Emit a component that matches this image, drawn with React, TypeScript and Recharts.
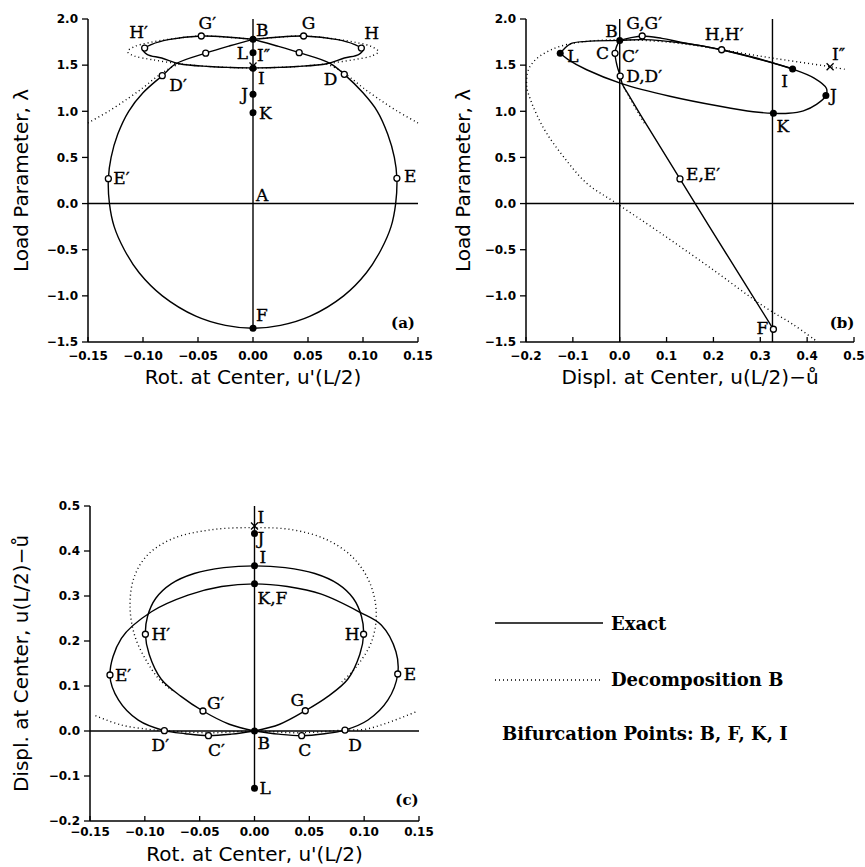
import React from 'react'
import { ComposedChart, Line, Scatter, XAxis, YAxis, ReferenceLine } from 'recharts'

type Pt = { x: number; y: number; name?: string }
type Off = Record<string, [number, number, 'start' | 'middle' | 'end']>

const P = (x: number, y: number, name?: string): Pt => ({ x, y, name })

// ---------- panel (a): load parameter vs rotation at center ----------
const loopA: Pt[] = [
  P(0, 1.78), P(0.021, 1.71), P(0.042, 1.635), P(0.07, 1.52), P(0.083, 1.4), P(0.1, 1.2),
  P(0.113, 1.0), P(0.1225, 0.75), P(0.1285, 0.5), P(0.1308, 0.274), P(0.1297, 0), P(0.1255, -0.25),
  P(0.1164, -0.5), P(0.1031, -0.75), P(0.0824, -1.0), P(0.052, -1.22), P(0.025, -1.32), P(0, -1.351),
  P(-0.025, -1.32), P(-0.052, -1.22), P(-0.0824, -1.0), P(-0.1035, -0.75), P(-0.117, -0.5),
  P(-0.1262, -0.25), P(-0.1305, 0), P(-0.1315, 0.27), P(-0.129, 0.5), P(-0.123, 0.75), P(-0.113, 1.0),
  P(-0.1, 1.2), P(-0.0825, 1.386), P(-0.07, 1.515), P(-0.043, 1.63), P(-0.021, 1.71), P(0, 1.78),
]
const eightA: Pt[] = [
  P(0, 1.78), P(0.019, 1.8), P(0.046, 1.816), P(0.077, 1.776), P(0.092, 1.725), P(0.1, 1.67),
  P(0.096, 1.615), P(0.083, 1.577), P(0.067, 1.515), P(0.04, 1.485), P(0.02, 1.475), P(0, 1.47),
  P(-0.02, 1.475), P(-0.04, 1.485), P(-0.067, 1.515), P(-0.083, 1.577), P(-0.096, 1.615),
  P(-0.1, 1.67), P(-0.092, 1.725), P(-0.077, 1.776), P(-0.047, 1.816), P(-0.019, 1.8), P(0, 1.78),
]
const trivialA: Pt[] = [P(0, 2.0), P(0, -1.351)]
const decompLensA: Pt[] = [
  P(0.067, 1.515), P(0.04, 1.485), P(0, 1.47), P(-0.04, 1.485), P(-0.067, 1.515), P(-0.092, 1.56),
  P(-0.108, 1.6), P(-0.114, 1.645), P(-0.108, 1.7), P(-0.094, 1.745), P(-0.075, 1.782),
  P(-0.047, 1.816), P(-0.02, 1.8), P(0, 1.785), P(0.02, 1.8), P(0.046, 1.816), P(0.075, 1.782),
  P(0.094, 1.745), P(0.108, 1.7), P(0.114, 1.645), P(0.108, 1.6), P(0.092, 1.56), P(0.067, 1.515),
]
const decompLeftA: Pt[] = [
  P(-0.15, 0.873), P(-0.13, 1.01), P(-0.113, 1.144), P(-0.1, 1.255), P(-0.089, 1.36), P(-0.078, 1.45), P(-0.067, 1.515),
]
const decompRightA: Pt[] = [
  P(0.067, 1.515), P(0.078, 1.45), P(0.089, 1.36), P(0.1, 1.255), P(0.113, 1.144), P(0.13, 1.01), P(0.15, 0.873),
]
const filledA: Pt[] = [P(0, 1.78, 'B'), P(0, 1.635, 'L'), P(0, 1.466, 'I'), P(0, 1.184, 'J'), P(0, 0.985, 'K'), P(0, -1.351, 'F')]
const openA: Pt[] = [
  P(0.046, 1.816, 'G'), P(0.0985, 1.685, 'H'), P(-0.047, 1.816, 'G′'), P(-0.0985, 1.685, 'H′'),
  P(0.042, 1.635, ''), P(-0.043, 1.63, ''), P(0.083, 1.4, 'D'), P(-0.0825, 1.386, 'D′'),
  P(0.1308, 0.274, 'E'), P(-0.1315, 0.27, 'E′'),
]
const crossA: Pt[] = [P(0, 1.49, 'I″')]
const textA: Pt[] = [P(0, 0, 'A')]

// ---------- panel (b): load parameter vs displacement ----------
const ellipseB: Pt[] = [
  P(-0.127, 1.628), P(-0.106, 1.729), P(-0.0705, 1.758), P(0, 1.768), P(0.05, 1.776), P(0.13, 1.742),
  P(0.2175, 1.667), P(0.285, 1.58), P(0.369, 1.458), P(0.415, 1.36), P(0.441, 1.25), P(0.44, 1.17),
  P(0.42, 1.075), P(0.392, 1.005), P(0.36, 0.978), P(0.328, 0.978), P(0.285, 0.995), P(0.214, 1.054),
  P(0.107, 1.163), P(0.004, 1.3), P(-0.0705, 1.45), P(-0.11, 1.56), P(-0.127, 1.628),
]
const gPathB: Pt[] = [
  P(0, 1.768), P(0.022, 1.795), P(0.048, 1.816), P(0.09, 1.79), P(0.13, 1.75), P(0.2175, 1.667), P(0.285, 1.585), P(0.369, 1.458),
]
const steepB: Pt[] = [
  P(0, 1.768), P(-0.007, 1.7), P(-0.01, 1.628), P(-0.006, 1.5), P(0.001, 1.382), P(0.006, 1.29),
  P(0.02, 1.17), P(0.05, 0.915), P(0.1286, 0.267), P(0.23, -0.565), P(0.328, -1.362),
]
const branchXsB = [0, 0.326]
const decompBigB: Pt[] = [
  P(0.48, 1.455), P(0.449, 1.483), P(0.378, 1.537), P(0.306, 1.592), P(0.2175, 1.667), P(0.13, 1.735),
  P(0.05, 1.768), P(-0.03, 1.772), P(-0.09, 1.745), P(-0.127, 1.704), P(-0.149, 1.66), P(-0.17, 1.6),
  P(-0.185, 1.53), P(-0.195, 1.45), P(-0.1985, 1.27), P(-0.19, 1.12), P(-0.177, 0.963), P(-0.156, 0.762),
  P(-0.12, 0.508), P(-0.0705, 0.22), P(-0.006, 0.0), P(0.093, -0.34), P(0.2, -0.72), P(0.306, -1.11),
  P(0.37, -1.31), P(0.42, -1.49),
]
const decompShortB: Pt[] = [P(0.001, 1.382), P(0.004, 1.32), P(0.02, 1.16), P(0.04, 0.98), P(0.055, 0.85)]
const filledB: Pt[] = [P(0, 1.768, 'B'), P(-0.127, 1.628, 'L'), P(0.369, 1.458, 'I'), P(0.44, 1.17, 'J'), P(0.328, 0.978, 'K')]
const openB: Pt[] = [
  P(0.048, 1.816, 'G,G′'), P(0.2175, 1.667, 'H,H′'), P(-0.01, 1.628, 'C'), P(0.001, 1.382, 'D,D′'),
  P(0.1286, 0.267, 'E,E′'), P(0.328, -1.362, 'F'),
]
const crossB: Pt[] = [P(0.449, 1.483, 'I″')]
const textB: Pt[] = [P(-0.01, 1.628, 'C′')]

// ---------- panel (c): displacement vs rotation ----------
const outerC: Pt[] = [
  P(0, 0), P(0.022, -0.007), P(0.043, -0.0104), P(0.064, -0.006), P(0.0825, 0.002), P(0.1035, 0.0244),
  P(0.1217, 0.069), P(0.1306, 0.1267), P(0.129, 0.176), P(0.1156, 0.2356), P(0.096, 0.264), P(0.061, 0.304),
  P(0.03, 0.321), P(0, 0.327), P(-0.03, 0.321), P(-0.0606, 0.302), P(-0.094, 0.265), P(-0.1214, 0.206),
  P(-0.1318, 0.1244), P(-0.124, 0.069), P(-0.106, 0.024), P(-0.0822, 0.0007), P(-0.063, -0.006),
  P(-0.042, -0.0104), P(-0.021, -0.007), P(0, 0),
]
const innerC: Pt[] = [
  P(0, 0), P(0.023, 0.015), P(0.0463, 0.045), P(0.067, 0.077), P(0.085, 0.115), P(0.096, 0.17),
  P(0.0995, 0.215), P(0.0975, 0.255), P(0.09, 0.295), P(0.076, 0.327), P(0.055, 0.35), P(0.028, 0.363),
  P(0, 0.367), P(-0.028, 0.363), P(-0.055, 0.35), P(-0.076, 0.327), P(-0.09, 0.295), P(-0.0975, 0.255),
  P(-0.0995, 0.215), P(-0.096, 0.17), P(-0.085, 0.115), P(-0.067, 0.077), P(-0.047, 0.0444),
  P(-0.023, 0.015), P(0, 0),
]
const trivialC: Pt[] = [P(0, 0.5), P(0, -0.127)]
const decompArchC: Pt[] = [
  P(-0.075, 0.09), P(-0.087, 0.115), P(-0.099, 0.158), P(-0.109, 0.21), P(-0.1135, 0.276),
  P(-0.11, 0.34), P(-0.098, 0.39), P(-0.075, 0.427), P(-0.04, 0.447), P(0, 0.452), P(0.035, 0.447),
  P(0.066, 0.425), P(0.09, 0.385), P(0.105, 0.33), P(0.111, 0.265), P(0.107, 0.2),
  P(0.093, 0.143), P(0.078, 0.105),
]
const decompFlatC: Pt[] = [
  P(-0.145, 0.034), P(-0.1215, 0.0133), P(-0.097, 0.0038), P(-0.0822, 0.0007), P(-0.04, -0.004),
  P(0, 0), P(0.04, -0.004), P(0.0825, 0.002), P(0.1005, 0.0037), P(0.1217, 0.0185), P(0.149, 0.0444),
]
const filledC: Pt[] = [P(0, 0.439, 'J'), P(0, 0.367, 'I'), P(0, 0.327, 'K,F'), P(0, 0, 'B'), P(0, -0.127, 'L')]
const openC: Pt[] = [
  P(0.0995, 0.215, 'H'), P(-0.0995, 0.215, 'H′'), P(0.1306, 0.1267, 'E'), P(-0.1318, 0.1244, 'E′'),
  P(0.0463, 0.045, 'G'), P(-0.047, 0.0444, 'G′'), P(0.0825, 0.002, 'D'), P(-0.0822, 0.0007, 'D′'),
  P(0.043, -0.0104, 'C'), P(-0.042, -0.0104, 'C′'),
]
const crossC: Pt[] = [P(0, 0.4556, 'I')]

// ticks
const rotTicks = [-0.15, -0.1, -0.05, 0, 0.05, 0.1, 0.15]
const lambdaTicks = [-1.5, -1, -0.5, 0, 0.5, 1, 1.5, 2]
const displTicksX = [-0.2, -0.1, 0, 0.1, 0.2, 0.3, 0.4, 0.5]
const displTicksY = [-0.2, -0.1, 0, 0.1, 0.2, 0.3, 0.4, 0.5]

// label placement [dx, dy, anchor] per point name
const offA: Off = {
  B: [3, -9, 'start'], G: [5, -13, 'middle'], H: [3, -15, 'start'], 'G′': [6, -13, 'middle'],
  'H′': [-6, -16, 'middle'], L: [-5, 0, 'end'], 'x:I″': [4, -11, 'start'], I: [5, 10, 'start'],
  'D′': [7, 9, 'start'], D: [-7, 5, 'end'], J: [-5, 0, 'end'], K: [6, 0, 'start'],
  'E′': [5, -1, 'start'], E: [7, -2, 'start'], A: [3, -9, 'start'], F: [3, -13, 'start'],
}
const offB: Off = {
  B: [-2, -9, 'end'], 'G,G′': [-16, -13, 'start'], 'H,H′': [-17, -16, 'start'], 'x:I″': [2, -13, 'start'],
  I: [-8, 12, 'middle'], J: [4, -1, 'start'], K: [3, 13, 'start'], L: [7, 3, 'start'],
  C: [-6, 0, 'end'], 'C′': [7, 3, 'start'], 'D,D′': [6, 0, 'start'], 'E,E′': [6, -5, 'start'], F: [-5, -1, 'end'],
}
const offC: Off = {
  'x:I': [3, -9, 'start'], J: [3, 5, 'start'], I: [5, -9, 'start'], 'K,F': [3, 14, 'start'],
  'H′': [6, 0, 'start'], H: [-4, 0, 'end'], 'E′': [5, 0, 'start'], E: [6, 0, 'start'],
  'G′': [4, -8, 'start'], G: [-8, -11, 'middle'], 'D′': [-4, 14, 'middle'], 'C′': [8, 14, 'middle'],
  B: [3, 12, 'start'], C: [3, 14, 'middle'], D: [10, 15, 'middle'], L: [5, 0, 'start'],
}

const num = (d: number) => (v: number) => (v < 0 ? '\u2212' : '') + Math.abs(v).toFixed(d)

// centripetal Catmull-Rom curve (d3 curve-factory shape) so the loops bend smoothly
function catmull(context: any) {
  let pts: number[][] = []
  return {
    areaStart() {},
    areaEnd() {},
    lineStart() { pts = [] },
    point(x: number, y: number) { pts.push([+x, +y]) },
    lineEnd() {
      const n = pts.length
      if (!n) return
      context.moveTo(pts[0][0], pts[0][1])
      if (n < 3) {
        for (let i = 1; i < n; i++) context.lineTo(pts[i][0], pts[i][1])
        return
      }
      for (let i = 0; i < n - 1; i++) {
        const p0 = pts[i > 0 ? i - 1 : i], p1 = pts[i], p2 = pts[i + 1], p3 = pts[i + 2 < n ? i + 2 : i + 1]
        const d01 = Math.hypot(p1[0] - p0[0], p1[1] - p0[1])
        const d12 = Math.hypot(p2[0] - p1[0], p2[1] - p1[1])
        const d23 = Math.hypot(p3[0] - p2[0], p3[1] - p2[1])
        const a01 = Math.sqrt(d01), a12 = Math.sqrt(d12), a23 = Math.sqrt(d23)
        let c1x = p1[0], c1y = p1[1], c2x = p2[0], c2y = p2[1]
        if (a01 > 1e-6) {
          const a = 2 * d01 + 3 * a01 * a12 + d12, m = 3 * a01 * (a01 + a12)
          c1x = (p1[0] * a - p0[0] * d12 + p2[0] * d01) / m
          c1y = (p1[1] * a - p0[1] * d12 + p2[1] * d01) / m
        }
        if (a23 > 1e-6) {
          const b = 2 * d23 + 3 * a23 * a12 + d12, m = 3 * a23 * (a23 + a12)
          c2x = (p2[0] * b + p1[0] * d23 - p3[0] * d12) / m
          c2y = (p2[1] * b + p1[1] * d23 - p3[1] * d12) / m
        }
        context.bezierCurveTo(c1x, c1y, c2x, c2y, p2[0], p2[1])
      }
    },
  }
}

const AXIS_LINE = { stroke: '#000', strokeWidth: 1.5 }
const TICK_LINE = { stroke: '#000', strokeWidth: 1.3 }
const TICK = { fill: '#000', fontSize: 12, fontWeight: 700, fontFamily: 'DejaVu Sans' }
const TITLE = { fontFamily: 'DejaVu Sans', fontSize: 20 }

const markerShape = (kind: 'filled' | 'open' | 'cross' | 'none', offsets: Off) => (props: any) => {
  const { cx, cy, payload } = props
  if (cx == null || cy == null) return <g />
  const name: string = payload?.name || ''
  const off = offsets[(kind === 'cross' ? 'x:' : '') + name] || [5, 0, 'start']
  return (
    <g>
      {kind === 'filled' && <circle cx={cx} cy={cy} r={3.5} fill="#000" />}
      {kind === 'open' && <circle cx={cx} cy={cy} r={3} fill="#fff" stroke="#000" strokeWidth={1.3} />}
      {kind === 'cross' && (
        <path d={`M${cx - 3.5},${cy - 3.5}L${cx + 3.5},${cy + 3.5}M${cx - 3.5},${cy + 3.5}L${cx + 3.5},${cy - 3.5}`} stroke="#000" strokeWidth={1.3} />
      )}
      {name && (
        <text x={cx + off[0]} y={cy + off[1]} textAnchor={off[2]} dominantBaseline="central"
          fontFamily="DejaVu Serif" fontSize={17} fill="#000" stroke="#000" strokeWidth={0.35}>{name}</text>
      )}
    </g>
  )
}

type PanelProps = {
  width: number; height: number; margin: { top: number; right: number; bottom: number; left: number }
  yAxisWidth: number; xAxisHeight: number; xTickMargin: number
  xDomain: [number, number]; xTicks: number[]; xFmt: (v: number) => string
  yDomain: [number, number]; yTicks: number[]; yFmt: (v: number) => string
  xTitle: string; yTitle: string; xTitleOffset: number; yTitleOffset: number
  solid: Pt[][]; dotted: Pt[][]; refX: number[]; refY: number[]
  filled: Pt[]; open: Pt[]; cross: Pt[]; text: Pt[]; offsets: Off
}

function PhasePanel(p: PanelProps) {
  return (
    <ComposedChart width={p.width} height={p.height} margin={p.margin}>
      <XAxis type="number" dataKey="x" domain={p.xDomain} ticks={p.xTicks} interval={0} tickFormatter={p.xFmt}
        height={p.xAxisHeight} tickSize={-5} tickMargin={p.xTickMargin} axisLine={AXIS_LINE} tickLine={TICK_LINE} tick={TICK}
        label={{ value: p.xTitle, position: 'insideTop', offset: p.xTitleOffset, fill: '#000', style: TITLE }} />
      <YAxis type="number" dataKey="y" domain={p.yDomain} ticks={p.yTicks} interval={0} tickFormatter={p.yFmt}
        width={p.yAxisWidth} tickSize={6} tickMargin={4} axisLine={AXIS_LINE} tickLine={TICK_LINE} tick={TICK}
        label={{ value: p.yTitle, angle: -90, position: 'insideLeft', offset: p.yTitleOffset, fill: '#000', style: { ...TITLE, textAnchor: 'middle' } }} />
      {p.refY.map((v) => <ReferenceLine key={'ry' + v} y={v} stroke="#000" strokeWidth={1.4} />)}
      {p.refX.map((v) => <ReferenceLine key={'rx' + v} x={v} stroke="#000" strokeWidth={1.4} />)}
      {p.dotted.map((d, i) => (
        <Line key={'d' + i} data={d} dataKey="y" type={catmull as any} stroke="#000" strokeWidth={1.4}
          strokeDasharray="1 3" dot={false} activeDot={false} isAnimationActive={false} />
      ))}
      {p.solid.map((d, i) => (
        <Line key={'s' + i} data={d} dataKey="y" type={catmull as any} stroke="#000" strokeWidth={1.4}
          dot={false} activeDot={false} isAnimationActive={false} />
      ))}
      <Scatter data={p.text} shape={markerShape('none', p.offsets)} isAnimationActive={false} />
      <Scatter data={p.open} shape={markerShape('open', p.offsets)} isAnimationActive={false} />
      <Scatter data={p.cross} shape={markerShape('cross', p.offsets)} isAnimationActive={false} />
      <Scatter data={p.filled} shape={markerShape('filled', p.offsets)} isAnimationActive={false} />
    </ComposedChart>
  )
}

export default function App() {
  return (
    <div style={{ position: 'absolute', left: 0, top: 0, width: 865, height: 867, background: '#fff', overflow: 'hidden' }}>
      <div style={{ position: 'absolute', left: 0, top: 0 }}>
        <PhasePanel width={445} height={400} margin={{ top: 19, right: 27, bottom: 0, left: 0 }}
          yAxisWidth={88} xAxisHeight={58} xTickMargin={14}
          xDomain={[-0.15, 0.15]} xTicks={rotTicks} xFmt={num(2)}
          yDomain={[-1.5, 2]} yTicks={lambdaTicks} yFmt={num(1)}
          xTitle="Rot. at Center, u'(L/2)" yTitle="Load Parameter, λ" xTitleOffset={28} yTitleOffset={21}
          solid={[loopA, eightA, trivialA]} dotted={[decompLensA, decompLeftA, decompRightA]}
          refX={[]} refY={[0]} filled={filledA} open={openA} cross={crossA} text={textA} offsets={offA} />
      </div>
      <div style={{ position: 'absolute', left: 430, top: 0 }}>
        <PhasePanel width={435} height={400} margin={{ top: 19, right: 11, bottom: 0, left: 0 }}
          yAxisWidth={96} xAxisHeight={58} xTickMargin={14}
          xDomain={[-0.2, 0.5]} xTicks={displTicksX} xFmt={num(1)}
          yDomain={[-1.5, 2]} yTicks={lambdaTicks} yFmt={num(1)}
          xTitle="Displ. at Center, u(L/2)−ů" yTitle="Load Parameter, λ" xTitleOffset={28} yTitleOffset={33}
          solid={[ellipseB, gPathB, steepB]} dotted={[decompBigB, decompShortB]}
          refX={branchXsB} refY={[0]} filled={filledB} open={openB} cross={crossB} text={textB} offsets={offB} />
      </div>
      <div style={{ position: 'absolute', left: 0, top: 420 }}>
        <PhasePanel width={445} height={447} margin={{ top: 86, right: 26, bottom: 0, left: 0 }}
          yAxisWidth={90} xAxisHeight={46} xTickMargin={11}
          xDomain={[-0.15, 0.15]} xTicks={rotTicks} xFmt={num(2)}
          yDomain={[-0.2, 0.5]} yTicks={displTicksY} yFmt={num(1)}
          xTitle="Rot. at Center, u'(L/2)" yTitle="Displ. at Center, u(L/2)−ů" xTitleOffset={26} yTitleOffset={21}
          solid={[outerC, innerC, trivialC]} dotted={[decompArchC, decompFlatC]}
          refX={[]} refY={[0]} filled={filledC} open={openC} cross={crossC} text={[]} offsets={offC} />
      </div>
      <svg width={865} height={867} style={{ position: 'absolute', left: 0, top: 0, pointerEvents: 'none' }}>
        <g fontFamily="DejaVu Serif" fontWeight={700} fill="#000">
          <text x={403} y={328} fontSize={15} textAnchor="middle">(a)</text>
          <text x={842} y={328} fontSize={15} textAnchor="middle">(b)</text>
          <text x={407} y={805} fontSize={15} textAnchor="middle">(c)</text>
          <line x1={495} y1={623} x2={603} y2={623} stroke="#000" strokeWidth={1.5} />
          <text x={611} y={630} fontSize={18}>Exact</text>
          <line x1={495} y1={680} x2={602} y2={680} stroke="#000" strokeWidth={1.4} strokeDasharray="1 3" />
          <text x={611} y={686} fontSize={18}>Decomposition B</text>
          <text x={502} y={740} fontSize={18}>Bifurcation Points: B, F, K, I</text>
        </g>
      </svg>
    </div>
  )
}
